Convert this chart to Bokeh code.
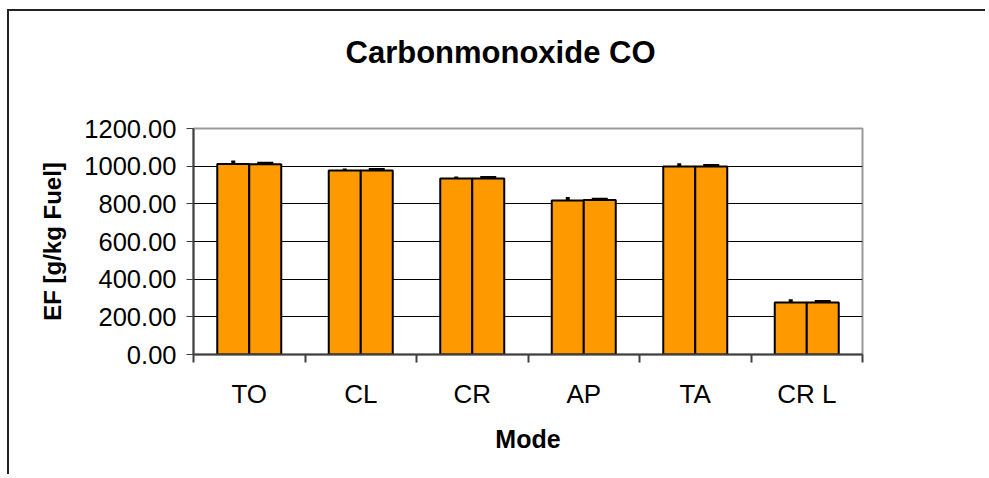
from bokeh.plotting import figure
from bokeh.models import (FixedTicker, Range1d, ColumnDataSource, Whisker, TeeHead,
                          PrintfTickFormatter, Title)
from bokeh.embed import file_html
from bokeh.resources import INLINE

# ---- data ----
title_text = "Carbonmonoxide CO"
modes = ["TO", "CL", "CR", "AP", "TA", "CR L"]
ef_run1 = [1012, 977, 935, 818, 998, 276]
ef_run2 = [1010, 977, 935, 820, 998, 276]
err_run1 = [18, 10, 10, 18, 18, 18]
err_run2 = [5, 5, 5, 5, 5, 5]
y_ticks = [0, 200, 400, 600, 800, 1000, 1200]

FONT = "Liberation Sans"
n = len(modes)
centers = [i + 0.5 for i in range(n)]
bar_w = 0.287
x1 = [c - bar_w / 2 for c in centers]
x2 = [c + bar_w / 2 for c in centers]

p = figure(width=978, height=465, output_backend="svg", toolbar_location=None,
           x_range=Range1d(0, n), y_range=Range1d(0, 1200),
           min_border_left=184, min_border_right=125, min_border_top=117,
           min_border_bottom=122, title=title_text)

p.styles = {"margin-left": "7px", "margin-top": "9px",
            "border-left": "2px solid #222222", "border-top": "2px solid #222222"}

p.title.align = "left"
p.title.offset = 152
p.title.vertical_align = "bottom"
p.title.standoff = 0
p.title.text_font = FONT
p.title.text_font_size = "31px"
p.title.text_font_style = "bold"
p.title.text_color = "black"

# invisible spacer panel between the title and the plot frame
spacer = Title(text=" ", text_font_size="2px", standoff=55)
p.add_layout(spacer, "above")

p.outline_line_color = "#999999"
p.outline_line_width = 2

# bars
p.vbar(x=x1, top=ef_run1, width=bar_w, bottom=0, fill_color="#FF9900",
       line_color="black", line_width=2)
p.vbar(x=x2, top=ef_run2, width=bar_w, bottom=0, fill_color="#FF9900",
       line_color="black", line_width=2)

# error bars
src1 = ColumnDataSource(dict(x=x1, upper=[v + e for v, e in zip(ef_run1, err_run1)],
                             lower=[v - e for v, e in zip(ef_run1, err_run1)]))
src2 = ColumnDataSource(dict(x=x2, upper=[v + e for v, e in zip(ef_run2, err_run2)],
                             lower=[v - e for v, e in zip(ef_run2, err_run2)]))
p.add_layout(Whisker(base="x", upper="upper", lower="lower", source=src1,
                     line_width=4, line_color="black", upper_head=None, lower_head=None))
p.add_layout(Whisker(base="x", upper="upper", lower="lower", source=src2,
                     line_width=4, line_color="black",
                     upper_head=TeeHead(size=16, line_width=3, line_color="black"),
                     lower_head=TeeHead(size=16, line_width=3, line_color="black")))

# grid
p.xgrid.visible = False
p.ygrid.ticker = FixedTicker(ticks=y_ticks)
p.ygrid.grid_line_color = "black"
p.ygrid.grid_line_width = 1

# x axis
p.xaxis.ticker = FixedTicker(ticks=centers, minor_ticks=list(range(n + 1)))
p.xaxis.major_label_overrides = {c: m for c, m in zip(centers, modes)}
p.xaxis.major_tick_out = 0
p.xaxis.major_tick_in = 0
p.xaxis.minor_tick_out = 8
p.xaxis.minor_tick_in = 0
p.xaxis.minor_tick_line_color = "#404040"
p.xaxis.minor_tick_line_width = 2
p.xaxis.axis_line_color = "#404040"
p.xaxis.axis_line_width = 2
p.xaxis.major_label_standoff = 16
p.xaxis.major_label_text_font = FONT
p.xaxis.major_label_text_font_size = "26px"
p.xaxis.major_label_text_color = "black"
p.xaxis.axis_label = "Mode"
p.xaxis.axis_label_text_font = FONT
p.xaxis.axis_label_text_font_size = "25px"
p.xaxis.axis_label_text_font_style = "bold"
p.xaxis.axis_label_text_color = "black"
p.xaxis.axis_label_standoff = 13

# y axis
p.yaxis.ticker = FixedTicker(ticks=y_ticks, minor_ticks=[])
p.yaxis.formatter = PrintfTickFormatter(format="%.2f")
p.yaxis.major_tick_out = 7
p.yaxis.major_tick_in = 0
p.yaxis.major_tick_line_color = "#404040"
p.yaxis.major_tick_line_width = 1
p.yaxis.axis_line_color = "#404040"
p.yaxis.axis_line_width = 2
p.yaxis.major_label_standoff = 10
p.yaxis.major_label_text_font = FONT
p.yaxis.major_label_text_font_size = "25.5px"
p.yaxis.major_label_text_color = "black"
p.yaxis.axis_label = "EF [g/kg Fuel]"
p.yaxis.axis_label_text_font = FONT
p.yaxis.axis_label_text_font_size = "24px"
p.yaxis.axis_label_text_font_style = "bold"
p.yaxis.axis_label_text_color = "black"
p.yaxis.axis_label_standoff = 15

open("out.html", "w").write(file_html(p, INLINE))
